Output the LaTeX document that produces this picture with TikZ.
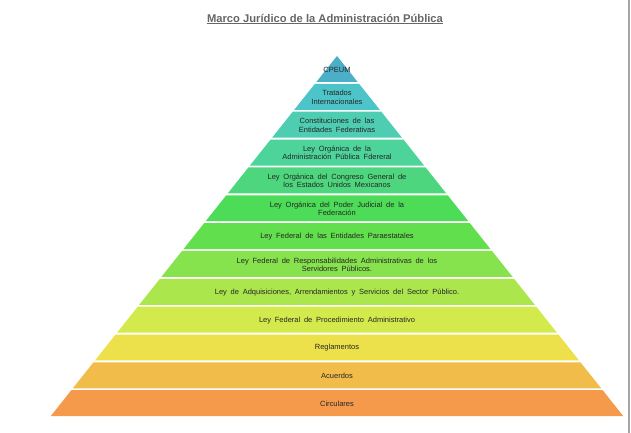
\documentclass[tikz,border=0pt]{standalone}
\usepackage{fontspec}
\setmainfont{Liberation Sans}
\newfontfamily\layerfont[WordSpace=1.8]{Liberation Sans}
\usepackage{tikz}

\definecolor{l0}{HTML}{4BAFC8}
\definecolor{l1}{HTML}{4DC4C8}
\definecolor{l2}{HTML}{4ECDB3}
\definecolor{l3}{HTML}{4DD49B}
\definecolor{l4}{HTML}{4DD67E}
\definecolor{l5}{HTML}{4DDC57}
\definecolor{l6}{HTML}{62DF4D}
\definecolor{l7}{HTML}{86E24D}
\definecolor{l8}{HTML}{ACE64D}
\definecolor{l9}{HTML}{D3EA4D}
\definecolor{l10}{HTML}{ECE04B}
\definecolor{l11}{HTML}{F2BC4B}
\definecolor{l12}{HTML}{F49A4A}

\begin{document}
\begin{tikzpicture}[x=1pt, y=-1pt,
    layertext/.style={font=\layerfont\fontsize{7.5}{8.3}\selectfont, align=center, inner sep=0pt, text=black!85}]
    \useasboundingbox (0,0) rectangle (631,433);

    % Title
    \node[font=\bfseries\fontsize{11.2}{13}\selectfont, text=black!60, inner sep=0pt] (titulo) at (325, 19) {\underline{Marco Jurídico de la Administración Pública}};

    % Layers of the pyramid, top to bottom
    \foreach \i/\col in {0/l0, 1/l1, 2/l2, 3/l3, 4/l4, 5/l5, 6/l6, 7/l7, 8/l8, 9/l9, 10/l10, 11/l11, 12/l12} {
        \pgfmathsetmacro\ytop{56 + 27.85*\i}
        \pgfmathsetmacro\ybot{56 + 27.85*(\i+1) - 1.9}
        \pgfmathsetmacro\wtop{0.795*(\ytop - 56)}
        \pgfmathsetmacro\wbot{0.795*(\ybot - 56)}
        \fill[\col] (337-\wtop, \ytop) -- (337+\wtop, \ytop) -- (337+\wbot, \ybot) -- (337-\wbot, \ybot) -- cycle;
    }

    % Labels of the layers
    \node[layertext] (cpeum) at (337, 70) {CPEUM};
    \node[layertext] (tratados) at (337, 97.4) {Tratados\\Internacionales};
    \node[layertext] (constituciones) at (337, 125.2) {Constituciones de las\\Entidades Federativas};
    \node[layertext] (loapf) at (337, 153.1) {Ley Orgánica de la\\Administración Pública Fdereral};
    \node[layertext] (locg) at (337, 180.9) {Ley Orgánica del Congreso General de\\los Estados Unidos Mexicanos};
    \node[layertext] (lopj) at (337, 208.8) {Ley Orgánica del Poder Judicial de la\\Federación};
    \node[layertext] (lfep) at (337, 236.6) {Ley Federal de las Entidades Paraestatales};
    \node[layertext] (lfrsp) at (337, 264.5) {Ley Federal de Responsabilidades Administrativas de los\\Servidores Públicos.};
    \node[layertext] (laass) at (337, 292.3) {Ley de Adquisiciones, Arrendamientos y Servicios del Sector Público.};
    \node[layertext] (lfpa) at (337, 320.2) {Ley Federal de Procedimiento Administrativo};
    \node[layertext] (reglamentos) at (337, 348.0) {Reglamentos};
    \node[layertext] (acuerdos) at (337, 375.9) {Acuerdos};
    \node[layertext] (circulares) at (337, 403.7) {Circulares};

    % Frame edge on the right
    \draw[line width=1.6pt, color=black!35] (628.8, 0) -- (628.8, 433);
\end{tikzpicture}
\end{document}
